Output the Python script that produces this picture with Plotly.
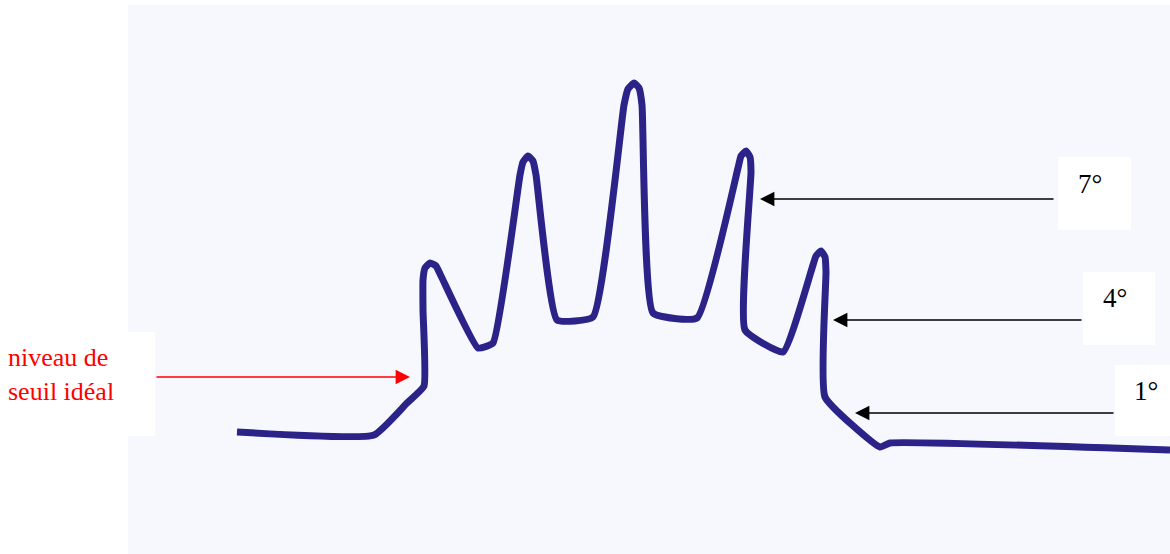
import plotly.graph_objects as go

# Trace of the hand-drawn response curve (pixel-like units, y downward)
curve_x = [237, 374, 407, 424, 423,
           423, 425, 430, 436, 442,
           478, 493,
           520, 523, 528, 533, 536,
           557, 593,
           624, 628, 634, 639, 642,
           653, 697,
           738, 741, 746, 750, 751,
           745, 783,
           813, 816, 821, 825, 826,
           825, 880, 890, 1170]
curve_y = [432, 435, 403, 386, 310,
           280, 268, 263, 266, 278,
           348, 343,
           175, 162, 156, 161, 175,
           320, 317,
           105, 89, 83, 88, 105,
           313, 318,
           168, 156, 151, 157, 172,
           330, 352,
           265, 256, 251, 257, 272,
           397, 447, 443, 450]

# Annotation arrows: label, text position, arrow start x, arrow tip x, y
labels = ["7°", "4°", "1°"]
label_x = [1090, 1115, 1146]
label_y = [184, 298, 391]
arrow_from_x = [1055, 1083, 1115]
arrow_to_x = [760, 833, 855]
arrow_y = [199, 320, 413]
box_x0 = [1058, 1083, 1115]
box_x1 = [1131, 1155, 1170]
box_y0 = [157, 272, 365]
box_y1 = [230, 345, 436]

seuil_text = "niveau de<br>seuil idéal"
seuil_arrow_from_x = 155
seuil_arrow_to_x = 410
seuil_arrow_y = 377

fig = go.Figure()
fig.add_trace(go.Scatter(
    x=curve_x, y=curve_y, mode="lines",
    line=dict(color="#2b2388", width=7, shape="spline", smoothing=0.4),
    hoverinfo="skip", showlegend=False,
))

shapes = [
    dict(type="rect", xref="x", yref="y", x0=128, x1=1170, y0=5, y1=554,
         fillcolor="#f7f8fd", line=dict(width=0), layer="below"),
    dict(type="rect", xref="x", yref="y", x0=0, x1=155, y0=332, y1=436,
         fillcolor="white", line=dict(width=0), layer="below"),
]
for i in range(len(labels)):
    shapes.append(dict(type="rect", xref="x", yref="y", x0=box_x0[i], x1=box_x1[i],
                       y0=box_y0[i], y1=box_y1[i], fillcolor="white",
                       line=dict(width=0), layer="below"))

annotations = []
for i in range(len(labels)):
    annotations.append(dict(
        x=arrow_to_x[i], y=arrow_y[i], ax=arrow_from_x[i], ay=arrow_y[i],
        xref="x", yref="y", axref="x", ayref="y", text="", showarrow=True,
        arrowhead=2, arrowsize=1.8, arrowwidth=1.6, arrowcolor="black",
    ))
    annotations.append(dict(
        x=label_x[i], y=label_y[i], xref="x", yref="y", text=labels[i],
        showarrow=False, font=dict(family="Liberation Serif", size=27, color="black"),
    ))
annotations.append(dict(
    x=seuil_arrow_to_x, y=seuil_arrow_y, ax=seuil_arrow_from_x, ay=seuil_arrow_y,
    xref="x", yref="y", axref="x", ayref="y", text="", showarrow=True,
    arrowhead=2, arrowsize=1.8, arrowwidth=1.6, arrowcolor="red",
))
annotations.append(dict(
    x=6, y=374, xref="x", yref="y", text=seuil_text, showarrow=False,
    xanchor="left", align="left",
    font=dict(family="Liberation Serif", size=26, color="red"),
))

fig.update_layout(
    width=1170, height=554,
    margin=dict(l=0, r=0, t=0, b=0),
    paper_bgcolor="white", plot_bgcolor="white",
    xaxis=dict(range=[0, 1170], visible=False, fixedrange=True),
    yaxis=dict(range=[554, 0], visible=False, fixedrange=True),
    shapes=shapes, annotations=annotations,
)

fig.write_html("out.html", config={"displayModeBar": False},
               post_script="document.body.style.margin='0';document.body.style.overflow='hidden';")
